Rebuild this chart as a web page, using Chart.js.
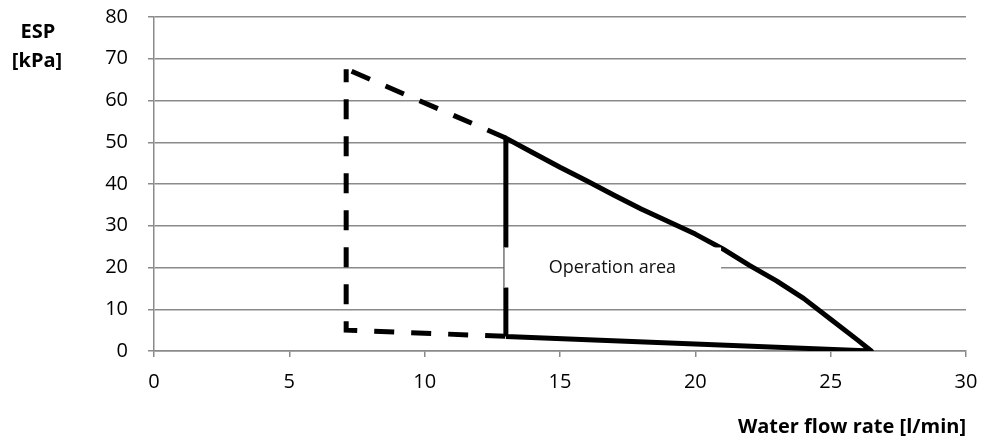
<!DOCTYPE html>
<html lang="en">
<head>
    <meta charset="UTF-8">
    <title>Operation area</title>
    <script src="https://cdn.jsdelivr.net/npm/chart.js@4.4.0/dist/chart.umd.min.js"></script>
    <style>
        body {
            margin: 0;
            background-color: white;
        }
        .chart-container {
            position: relative;
            width: 984px;
            height: 444px;
        }
    </style>
</head>
<body>
    <div class="chart-container">
        <canvas id="areaChart"></canvas>
    </div>

    <script>
        // Dashed outline (vertical + bottom)
        const dashedX = [7.1, 7.1, 13];
        const dashedY = [67.5, 5, 3.5];
        // Dashed upper slope
        const slopeX = [7.3, 13];
        const slopeY = [67, 51];
        // Solid operation boundary
        const solidX = [13, 13, 14, 15, 16, 17, 18, 19, 20, 21, 22, 23, 24, 25, 26, 26.5, 13];
        const solidY = [3.5, 51, 47.5, 44, 40.7, 37.3, 34, 31, 28, 24.5, 20.5, 16.8, 12.6, 7.6, 2.6, 0, 3.5];

        const xTicks = [0, 5, 10, 15, 20, 25, 30];
        const yTicks = [0, 10, 20, 30, 40, 50, 60, 70, 80];

        const areaLabel = 'Operation area';
        const yTitle = ['ESP', '[kPa]'];
        const xTitle = 'Water flow rate [l/min]';

        function toPoints(xs, ys) {
            return xs.map((x, i) => ({ x: x, y: ys[i] }));
        }

        // Label box, white over the lines, plus the axis titles
        const labelPlugin = {
            id: 'labelBox',
            afterDatasetsDraw(chart) {
                const c = chart.ctx;
                const xs = chart.scales.x, ys = chart.scales.y;
                const x1 = xs.getPixelForValue(12.92), x2 = xs.getPixelForValue(20.95);
                const y1 = ys.getPixelForValue(24.8), y2 = ys.getPixelForValue(15.2);
                c.save();
                c.fillStyle = 'white';
                c.fillRect(x1, y1, x2 - x1, y2 - y1);
                c.strokeStyle = '#a0a0a0';
                c.lineWidth = 1;
                c.beginPath();
                c.moveTo(Math.round(x1) + 0.5, y1);
                c.lineTo(Math.round(x1) + 0.5, y2);
                c.stroke();
                c.fillStyle = '#111';
                c.font = '18px "Open Sans"';
                c.textAlign = 'center';
                c.textBaseline = 'middle';
                c.fillText(areaLabel, (x1 + x2) / 2, (y1 + y2) / 2);
                c.restore();
            },
            afterDraw(chart) {
                const c = chart.ctx;
                c.save();
                c.fillStyle = '#000';
                c.font = 'bold 20px "Open Sans"';
                c.textAlign = 'center';
                c.textBaseline = 'middle';
                c.fillText(yTitle[0], 38, 32);
                c.fillText(yTitle[1], 37, 61);
                c.textAlign = 'right';
                c.fillText(xTitle, chart.chartArea.right, 427);
                c.restore();
            }
        };

        const ctx = document.getElementById('areaChart').getContext('2d');
        new Chart(ctx, {
            type: 'scatter',
            data: {
                datasets: [
                    {
                        data: toPoints(dashedX, dashedY),
                        showLine: true,
                        borderColor: 'black',
                        borderWidth: 5,
                        borderDash: [20, 17],
                        borderDashOffset: 7,
                        pointRadius: 0,
                        tension: 0
                    },
                    {
                        data: toPoints(slopeX, slopeY),
                        showLine: true,
                        borderColor: 'black',
                        borderWidth: 5,
                        borderDash: [20, 17],
                        pointRadius: 0,
                        tension: 0
                    },
                    {
                        data: toPoints(solidX, solidY),
                        showLine: true,
                        borderColor: 'black',
                        borderWidth: 5,
                        borderJoinStyle: 'round',
                        pointRadius: 0,
                        tension: 0
                    }
                ]
            },
            options: {
                responsive: true,
                maintainAspectRatio: false,
                animation: false,
                layout: {
                    padding: { top: 17, right: 18, left: 0, bottom: 0 }
                },
                plugins: {
                    legend: { display: false },
                    tooltip: { enabled: false }
                },
                scales: {
                    x: {
                        type: 'linear',
                        min: 0,
                        max: 30,
                        afterBuildTicks: function(scale) {
                            scale.ticks = xTicks.map(v => ({ value: v }));
                        },
                        afterFit: function(scale) {
                            scale.height = 93;
                            scale.paddingLeft = 0;
                            scale.paddingRight = 0;
                        },
                        grid: {
                            drawOnChartArea: false,
                            drawTicks: true,
                            tickLength: 6,
                            color: '#8a8a8a',
                            lineWidth: 1.5
                        },
                        border: { color: '#8a8a8a', width: 1.5 },
                        ticks: {
                            color: '#000',
                            font: { family: 'Open Sans', size: 20 },
                            padding: 13
                        }
                    },
                    y: {
                        type: 'linear',
                        min: 0,
                        max: 80,
                        afterBuildTicks: function(scale) {
                            scale.ticks = yTicks.map(v => ({ value: v }));
                        },
                        afterFit: function(scale) {
                            scale.width = 154;
                            scale.paddingTop = 0;
                            scale.paddingBottom = 0;
                        },
                        grid: {
                            drawTicks: true,
                            tickLength: 6,
                            color: '#8a8a8a',
                            lineWidth: 1.5
                        },
                        border: { color: '#8a8a8a', width: 1.5 },
                        ticks: {
                            color: '#000',
                            font: { family: 'Open Sans', size: 20 },
                            padding: 20
                        }
                    }
                }
            },
            plugins: [labelPlugin]
        });
    </script>
</body>
</html>
